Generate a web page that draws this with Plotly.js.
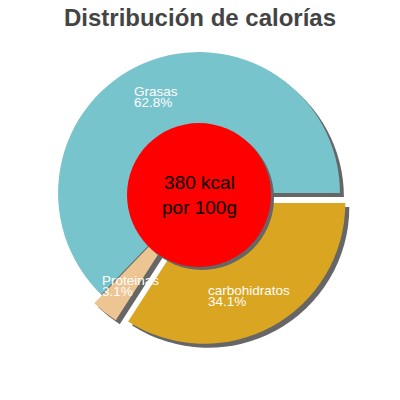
<!DOCTYPE html>
<html>
<head>
<meta charset="utf-8">
<script src="https://cdn.plot.ly/plotly-3.0.1.min.js"></script>
<style>
  html, body { margin: 0; padding: 0; background: #fff; }
  #pie { width: 400px; height: 400px; }
</style>
</head>
<body>
<div id="pie"></div>
<script>
// calorie split
const labels = ['Grasas', 'Proteinas', 'carbohidratos'];
const percents = [62.8, 3.1, 34.1];
const sliceColors = ['#78c4cd', '#edc592', '#daa520'];
const pulls = [0, 0.08, 0.08];
const centerText = ['380 kcal', 'por 100g'];

// label anchors in paper coords: left edge, middle of first line
const labelPos = [[0.331, 0.772], [0.249, 0.2995], [0.516, 0.2745]];

const dom = { x: [0.117, 0.878], y: [0.137, 0.898] };
const shadowDom = {
  x: [dom.x[0] + 0.01, dom.x[1] + 0.01],
  y: [dom.y[0] - 0.01, dom.y[1] - 0.01],
};

// first slice starts at 3 o'clock and runs counterclockwise
const rot = 90 - 3.6 * percents[0];

const common = {
  type: 'pie',
  values: percents,
  labels: labels,
  sort: false,
  direction: 'counterclockwise',
  rotation: rot,
  pull: pulls,
  textinfo: 'none',
  hoverinfo: 'skip',
  showlegend: false,
};

const shadow = Object.assign({}, common, {
  domain: shadowDom,
  marker: { colors: labels.map(() => '#666666'), line: { width: 0 } },
});
const main = Object.assign({}, common, {
  domain: dom,
  marker: { colors: sliceColors, line: { width: 0 } },
});

const font = { family: 'Liberation Sans, Arial, sans-serif', color: '#ffffff', size: 13.5 };
const annotations = [];
labels.forEach((lab, i) => {
  const [x, y] = labelPos[i];
  annotations.push({ x: x, y: y, xref: 'paper', yref: 'paper', xanchor: 'left', yanchor: 'middle',
    text: lab, showarrow: false, font: font });
  annotations.push({ x: x, y: y - 0.029, xref: 'paper', yref: 'paper', xanchor: 'left', yanchor: 'middle',
    text: percents[i].toFixed(1) + '%', showarrow: false, font: font });
});
annotations.push({
  x: 0.4975, y: 0.5125, xref: 'paper', yref: 'paper', xanchor: 'center', yanchor: 'middle',
  text: centerText.join('<br>'), showarrow: false,
  font: { family: 'Liberation Sans, Arial, sans-serif', color: '#000000', size: 19 },
});

const layout = {
  width: 400,
  height: 400,
  margin: { l: 0, r: 0, t: 0, b: 0 },
  paper_bgcolor: '#ffffff',
  title: {
    text: '<b>Distribución de calorías</b>',
    x: 0.5,
    xanchor: 'center',
    y: 0.955,
    yanchor: 'middle',
    font: { family: 'Liberation Sans, Arial, sans-serif', size: 24, color: '#444444' },
  },
  shapes: [
    { type: 'circle', xref: 'paper', yref: 'paper', layer: 'above',
      x0: 0.325, x1: 0.685, y0: 0.325, y1: 0.685, fillcolor: '#666666', line: { width: 0 } },
    { type: 'circle', xref: 'paper', yref: 'paper', layer: 'above',
      x0: 0.3175, x1: 0.6775, y0: 0.3325, y1: 0.6925, fillcolor: '#ff0000', line: { width: 0 } },
  ],
  annotations: annotations,
};

Plotly.newPlot('pie', [shadow, main], layout, { staticPlot: true });
</script>
</body>
</html>
